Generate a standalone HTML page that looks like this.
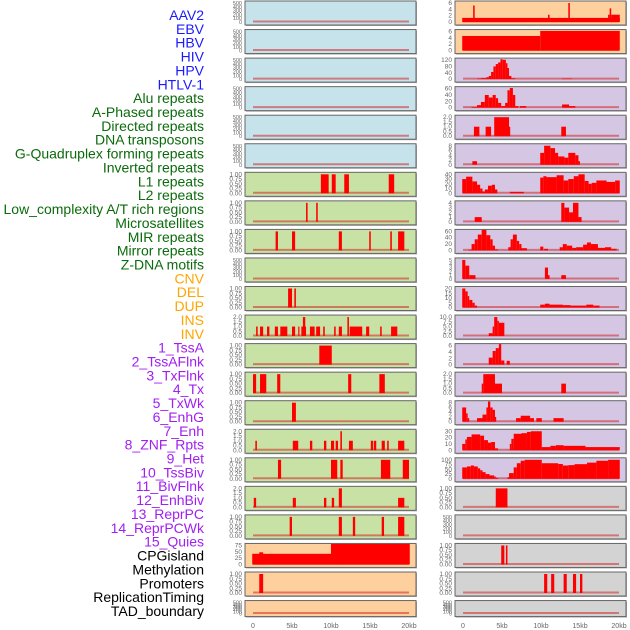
<!DOCTYPE html>
<html><head><meta charset="utf-8"><style>
html,body{margin:0;padding:0;background:#fff;width:630px;height:630px;overflow:hidden}
svg{display:block}
</style></head><body>
<svg id="chart" width="630" height="630" viewBox="0 0 630 630" font-family="Liberation Sans, sans-serif"></svg>
<script>
// ---- track labels ----
const labelNames = ["AAV2","EBV","HBV","HIV","HPV","HTLV-1","Alu repeats","A-Phased repeats","Directed repeats","DNA transposons","G-Quadruplex forming repeats","Inverted repeats","L1 repeats","L2 repeats","Low_complexity A/T rich regions","Microsatellites","MIR repeats","Mirror repeats","Z-DNA motifs","CNV","DEL","DUP","INS","INV","1_TssA","2_TssAFlnk","3_TxFlnk","4_Tx","5_TxWk","6_EnhG","7_Enh","8_ZNF_Rpts","9_Het","10_TssBiv","11_BivFlnk","12_EnhBiv","13_ReprPC","14_ReprPCWk","15_Quies","CPGisland","Methylation","Promoters","ReplicationTiming","TAD_boundary"];
const labelGroups = [6,13,5,15,5];
const groupColors = ["#1a1aff","#0b6b0b","#ffa500","#a020f0","#000000"];
// ---- x axis ----
const xTicks = [0,5,10,15,20];
const xTickLabels = ["0","5kb","10kb","15kb","20kb"];
// ---- y ticks ----
const tEmpty=[0,100,200,300,400,500];
const tOne=[0,0.25,0.5,0.75,1.0];
const tTwo=[0,0.5,1.0,1.5,2.0];
// ---- column 1 tracks: segments [startKb,endKb,value] ----
const c1r6=[[8.7,9.7,1],[10.1,10.6,1],[11.7,12.3,1],[17.4,18.1,1]];
const c1r7=[[6.8,7.0,1],[8.1,8.3,1]];
const c1r8=[[2.9,3.2,1],[5.0,5.4,1],[11.0,11.4,1],[14.9,15.1,1],[17.6,17.8,1],[18.6,19.4,1]];
const c1r10=[[4.5,5.0,1],[5.3,5.5,1]];
const c1r11=[[0.4,0.6,1],[0.9,1.3,1],[1.8,2.1,1],[2.8,3.2,1],[3.5,4.4,1],[5.0,5.4,1],[5.8,5.9,1],[6.2,6.8,1],[6.4,6.7,2],[7.3,7.9,1],[8.1,8.6,1],[9.0,9.2,1],[10.4,10.6,1],[11.0,11.4,1],[12.1,12.3,2],[12.4,14.0,1],[14.5,14.9,1],[16.3,16.5,1],[17.7,18.5,1]];
const c1r12=[[8.5,10.1,1]];
const c1r13=[[0.0,0.4,1],[0.9,1.7,1],[3.1,3.5,1],[12.2,12.6,1],[16.2,16.9,1]];
const c1r14=[[5.0,5.5,1]];
const c1r15=[[0.3,0.5,1],[5.1,5.8,1],[7.3,7.6,1],[9.1,9.4,1],[10.0,10.4,1],[10.6,10.9,1],[11.2,11.4,2],[12.3,12.8,1],[15.1,15.4,1],[15.5,15.8,1],[16.5,16.9,1],[17.2,17.4,1],[18.6,19.4,1]];
const c1r16=[[3.2,3.6,1],[10.0,10.8,1],[11.2,11.5,1],[16.4,17.6,1],[19.2,20.0,1]];
const c1r17=[[0.1,0.4,1],[5.1,5.5,1],[9.1,9.4,1],[10.1,10.4,1],[11.0,11.4,2],[18.6,19.4,1]];
const c1r18=[[4.7,5.0,1],[11.0,11.4,1],[12.8,13.1,1],[16.5,16.8,1],[18.6,19.4,1]];
const c1r19=[[-0.1,10,42],[0.8,1.3,48],[10,20.1,88],[11.1,11.3,95]];
const c1r20=[[0.8,1.3,1]];
// ---- column 2 tracks ----
const c2r0=[[-0.1,20.1,1.3],[1.3,1.5,5.2],[10.9,11.1,2.3],[13.5,13.7,6],[18.6,18.8,2.3],[18.8,19.0,4.3],[19.0,20.1,2.3]];
const c2r1=[[-0.1,9.9,4.6],[9.9,20.1,6.2]];
const c2r2=[[1.8,2.3,3],[2.3,3.0,6],[3.0,3.3,12],[3.3,3.6,20],[3.6,3.9,45],[3.9,4.2,80],[4.2,4.5,95],[4.5,4.8,105],[4.8,5.1,125],[5.1,5.5,122],[5.5,5.7,100],[5.7,5.9,70],[5.9,6.2,20],[6.2,6.7,5],[12.7,14.0,3]];
const c2r3=[[1.1,1.8,2],[1.8,2.3,8],[2.3,2.8,18],[2.8,3.3,40],[3.3,3.8,32],[3.8,4.2,40],[4.2,4.5,30],[4.5,4.9,15],[4.9,5.4,5],[5.4,5.7,15],[5.7,6.0,55],[6.0,6.4,62],[6.4,6.7,40],[6.7,7.1,5],[7.3,8.1,5],[12.7,13.6,10],[13.6,14.0,5],[14.0,14.4,5]];
const c2r4=[[1.4,2.1,1],[2.9,3.6,1],[4.0,5.9,2],[5.9,6.0,1],[12.6,13.2,1]];
const c2r5=[[1.2,1.8,1.5],[9.9,10.4,5],[10.4,11.2,8],[11.2,11.8,7],[11.8,12.2,5],[12.2,13.0,3.5],[13.0,13.5,3],[13.5,14.4,5],[14.4,14.8,4],[14.8,15.0,1.5]];
const c2r6=[[-0.1,0.4,30],[0.4,1.2,35],[1.2,1.8,25],[1.8,2.2,18],[2.2,2.5,10],[2.5,2.8,4],[2.8,3.2,8],[3.2,3.7,16],[3.7,4.1,18],[4.1,4.4,8],[6.0,7.8,3],[9.9,10.3,33],[10.3,10.7,36],[10.7,12.0,34],[12.0,12.9,38],[12.9,13.5,27],[13.5,14.2,30],[14.2,14.8,36],[14.8,15.6,40],[15.6,16.1,26],[16.1,16.5,20],[16.5,17.1,22],[17.1,18.4,27],[18.4,19.5,24],[19.5,20.1,27]];
const c2r7=[[1.5,2.4,1],[12.6,13.0,4],[13.0,13.6,3],[13.6,14.1,2],[14.1,14.8,4],[14.8,15.2,1]];
const c2r8=[[0.7,1.1,2],[1.1,1.5,20],[1.5,1.9,35],[1.9,2.4,50],[2.4,3.0,68],[3.0,3.5,48],[3.5,3.8,35],[3.8,4.1,15],[4.1,4.5,3],[5.8,6.1,10],[6.1,6.4,35],[6.4,6.9,50],[6.9,7.2,30],[7.2,7.5,20],[7.5,8.2,7],[9.9,10.3,12],[10.4,10.9,5],[12.4,12.8,10],[12.8,13.3,20],[13.3,14.0,15],[14.0,14.5,8],[14.5,15.4,10],[15.4,15.9,18],[15.9,16.4,25],[16.4,17.3,20],[17.3,18.2,8],[18.2,19.0,10],[19.0,19.7,5]];
const c2r9=[[-0.1,0.3,5],[0.3,0.8,3.5],[0.8,1.6,1],[10.5,10.9,3],[10.9,11.1,1],[12.6,13.2,1]];
const c2r10=[[-0.1,0.3,20],[0.3,0.6,17],[0.6,0.8,12],[0.8,1.2,8],[1.2,1.5,5],[1.5,1.8,2],[9.9,10.5,3],[10.5,11.1,4],[11.1,12.8,3],[12.8,13.8,2.5],[13.8,15.8,2],[15.8,16.7,3],[16.7,17.5,2]];
const c2r11=[[3.3,3.8,1.5],[3.8,4.0,5],[4.0,4.4,10],[4.4,4.6,8],[4.6,5.3,7]];
const c2r12=[[3.3,3.8,2.2],[3.8,4.2,4.3],[4.2,4.6,5.2],[4.6,4.9,7],[4.9,5.3,1.3],[5.6,6.0,1.2]];
const c2r13=[[2.4,2.6,1],[2.6,4.1,2],[4.1,5.0,1],[12.6,13.2,1]];
const c2r14=[[-0.1,0.4,6],[0.4,0.6,3.5],[0.6,0.8,1.5],[1.8,2.5,1.5],[2.5,3.0,3],[3.0,3.2,6],[3.2,3.5,8.5],[3.5,3.8,6],[3.8,4.1,5],[4.1,4.2,2],[6.8,7.4,1.5],[7.4,8.6,2.5],[8.6,9.1,1.5],[9.4,10.1,1.5],[11.6,12.9,1.5]];
const c2r15=[[-0.1,0.3,10],[0.3,0.5,17],[0.5,1.1,21],[1.1,2.2,25],[2.2,2.7,23],[2.7,3.2,16],[3.2,3.6,12],[3.6,4.1,13],[4.1,4.5,3],[6.0,6.2,10],[6.2,6.5,18],[6.5,7.5,26],[7.5,8.2,27],[8.2,8.7,29],[8.7,10.1,30],[10.1,11.2,5],[11.2,11.9,7],[11.9,12.9,8],[12.9,15.7,7],[15.7,20.1,5]];
const c2r16=[[-0.1,0.5,60],[0.5,1.0,65],[1.0,1.4,70],[1.4,1.9,65],[1.9,2.2,55],[2.2,2.5,45],[2.5,2.9,35],[2.9,3.4,25],[3.4,4.0,18],[4.0,4.2,12],[4.2,4.5,5],[5.7,5.9,8],[5.9,6.5,30],[6.5,6.9,60],[6.9,7.4,82],[7.4,7.9,95],[7.9,10.1,100],[10.1,12.2,82],[12.2,12.8,78],[12.8,13.5,70],[13.5,14.3,72],[14.3,15.9,77],[15.9,17.1,85],[17.1,18.6,95],[18.6,20.1,100]];
const c2r17=[[4.2,5.7,1]];
const c2r19=[[4.9,5.3,1],[5.5,5.7,1]];
const c2r20=[[10.4,10.8,1],[11.3,11.7,1],[12.9,13.3,1],[14.1,14.5,1],[15.0,15.3,1]];

const BLUE="#c6e3eb",GREEN="#c8e1a4",ORANGE="#fed09e",PURPLE="#d5c6e3",GRAY="#d3d3d3";
// [segments, ticks, tickLabels, bg]
const col1=[
 [[],tEmpty,null,BLUE],[[],tEmpty,null,BLUE],[[],tEmpty,null,BLUE],[[],tEmpty,null,BLUE],[[],tEmpty,null,BLUE],[[],tEmpty,null,BLUE],
 [c1r6,tOne,null,GREEN],[c1r7,tOne,null,GREEN],[c1r8,tOne,null,GREEN],[[],tEmpty,null,GREEN],[c1r10,tOne,null,GREEN],[c1r11,tTwo,null,GREEN],
 [c1r12,tOne,null,GREEN],[c1r13,tOne,null,GREEN],[c1r14,tOne,null,GREEN],[c1r15,tTwo,null,GREEN],[c1r16,tOne,null,GREEN],[c1r17,tTwo,null,GREEN],[c1r18,tOne,null,GREEN],
 [c1r19,[0,25,50,75],null,ORANGE],[c1r20,tOne,null,ORANGE],[[],tEmpty,null,ORANGE]];
const col2=[
 [c2r0,[0,2,4,6],null,ORANGE],[c2r1,[0,2,4,6],null,ORANGE],
 [c2r2,[0,40,80,120],null,PURPLE],[c2r3,[0,20,40,60],null,PURPLE],[c2r4,tTwo,null,PURPLE],[c2r5,[0,2,4,6,8],null,PURPLE],
 [c2r6,[0,10,20,30,40],null,PURPLE],[c2r7,[0,1,2,3,4],null,PURPLE],[c2r8,[0,20,40,60],null,PURPLE],[c2r9,[0,1,2,3,4,5],null,PURPLE],
 [c2r10,[0,5,10,15,20],null,PURPLE],[c2r11,[0,2.5,5,7.5,10],null,PURPLE],[c2r12,[0,2,4,6],null,PURPLE],[c2r13,tTwo,null,PURPLE],
 [c2r14,[0,2,4,6,8],null,PURPLE],[c2r15,[0,10,20,30],null,PURPLE],[c2r16,[0,25,50,75,100],null,PURPLE],
 [c2r17,tOne,null,GRAY],[[],tEmpty,null,GRAY],[c2r19,tOne,null,GRAY],[c2r20,tOne,null,GRAY],[[],tEmpty,null,GRAY]];

const svg=document.getElementById('chart');
const NS="http://www.w3.org/2000/svg";
function mk(tag,attrs,parent){const e=document.createElementNS(NS,tag);for(const k in attrs)e.setAttribute(k,attrs[k]);(parent||svg).appendChild(e);return e;}

// labels
let k=0;
labelGroups.forEach((n,g)=>{for(let i=0;i<n;i++){
 const t=mk('text',{x:204,y:15+k*13.86+5,'text-anchor':'end','font-size':14,fill:groupColors[g]});
 
 
 t.textContent=labelNames[k];k++;}});

function fmt(v,ticks){const mx=Math.max(...ticks);const dec=ticks.some(t=>t%1!==0)?(ticks.some(t=>Math.round(t*100)%50!==0)?2:1):0;return mx<=2&&ticks.includes(0.25)?v.toFixed(2):v.toFixed(dec);}

function drawCol(col,px0,px1,cname){
 const xs=kb=>px0+8+kb*7.8;
 col.forEach((p,i)=>{
  const [segs,ticks,,bg]=p;
  const top=1+i*28.55, h=(i===21)?16:24;
  const g=mk('g',{});
  
  
  mk('rect',{x:px0+1,y:top+1,width:px1-px0,height:h,fill:'#aaa'},g);
  const r=mk('rect',{x:px0,y:top,width:px1-px0,height:h,fill:bg,stroke:'#666','stroke-width':1},g);
  
  
  const yMax=Math.max(...ticks);
  const y0=top+h-3, yTop=top+2;
  const ys=v=>y0-(v/yMax)*(y0-yTop);
  ticks.forEach(tv=>{
   const t=mk('text',{x:px0-3,y:ys(tv)+2,'text-anchor':'end','font-size':(ticks.length>5?5.5:6.5),fill:'#666'},g);
   
   
   t.textContent=fmt(tv,ticks);
  });
  const bl=mk('line',{x1:xs(0),x2:xs(20),y1:y0-0.5,y2:y0-0.5,stroke:'rgba(210,40,40,0.55)','stroke-width':2},g);
  
  
  segs.forEach(s=>{
   const yv=Math.max(ys(s[2]),top+0.5);
   const b=mk('rect',{x:xs(s[0]),y:yv,width:Math.max(xs(s[1])-xs(s[0]),1.2),height:y0-yv,fill:'#ff0000'},g);
   
   
  });
 });
 xTicks.forEach((v,j)=>{
  const t=mk('text',{x:xs(v),y:628,'text-anchor':'middle','font-size':7,fill:'#666'});
  
  
  t.textContent=xTickLabels[j];
 });
}
drawCol(col1,245,416,'left');
drawCol(col2,455,626,'right');
</script>
</body></html>
